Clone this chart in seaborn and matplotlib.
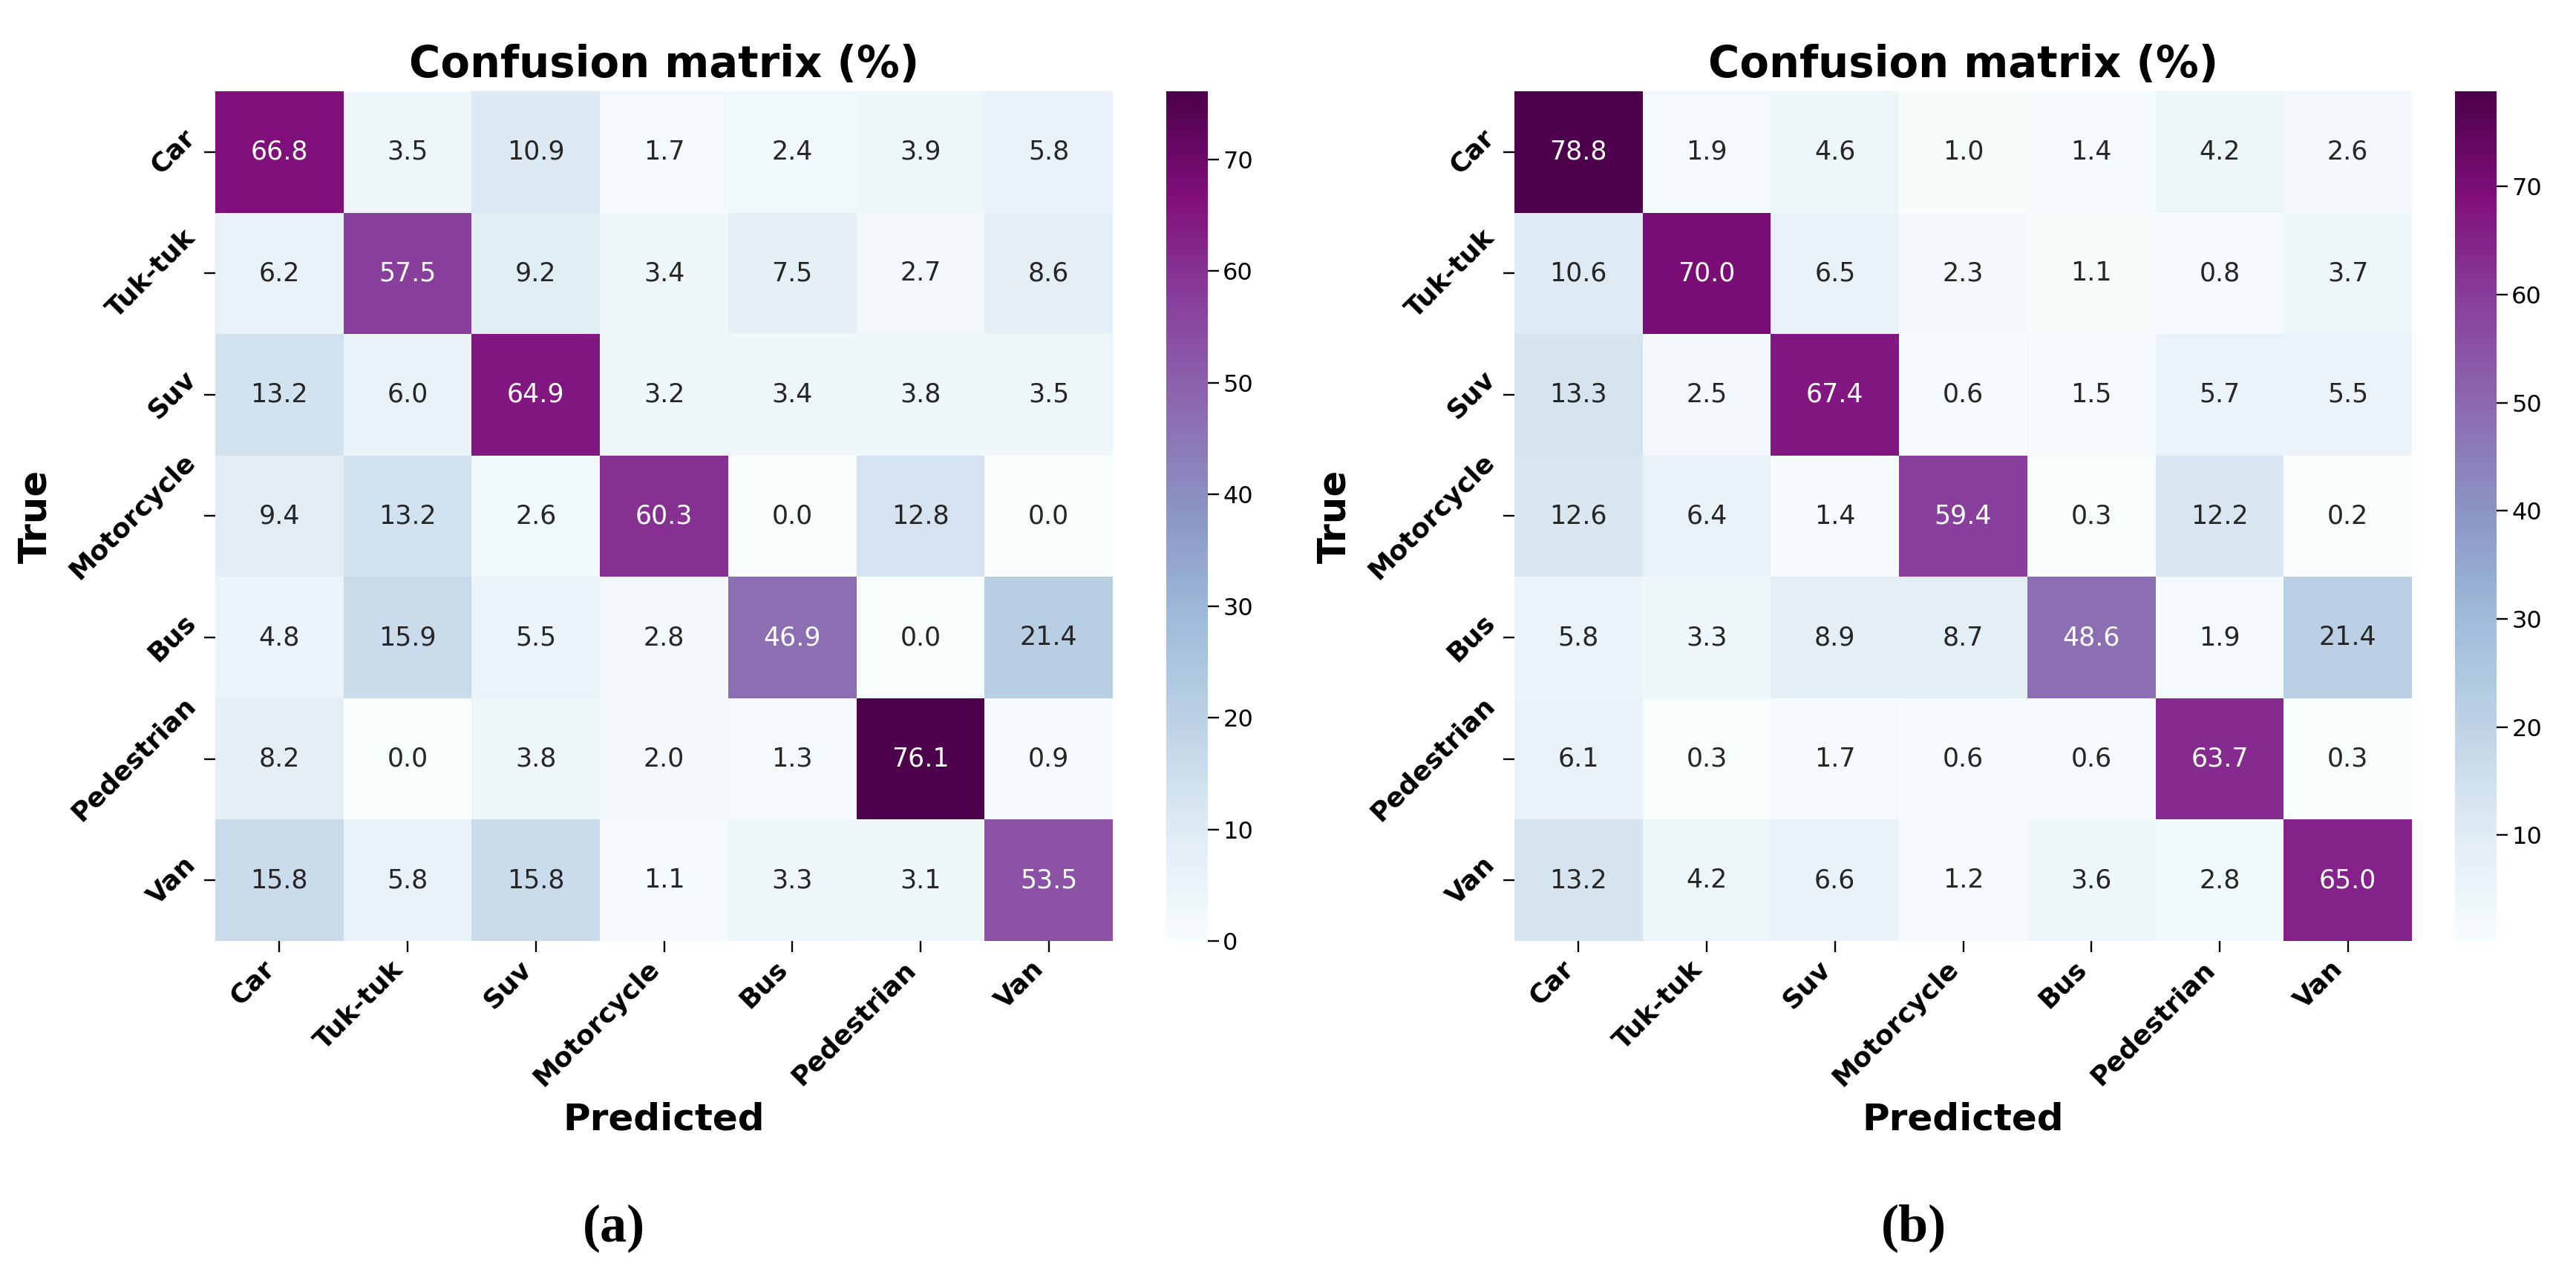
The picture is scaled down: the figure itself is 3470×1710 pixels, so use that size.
import numpy as np
import pandas as pd
import seaborn as sns
import matplotlib
matplotlib.use("Agg")
import matplotlib.pyplot as plt

classes = ["Car", "Tuk-tuk", "Suv", "Motorcycle", "Bus", "Pedestrian", "Van"]

cm_a = [
    [66.8, 3.5, 10.9, 1.7, 2.4, 3.9, 5.8],
    [6.2, 57.5, 9.2, 3.4, 7.5, 2.7, 8.6],
    [13.2, 6.0, 64.9, 3.2, 3.4, 3.8, 3.5],
    [9.4, 13.2, 2.6, 60.3, 0.0, 12.8, 0.0],
    [4.8, 15.9, 5.5, 2.8, 46.9, 0.0, 21.4],
    [8.2, 0.0, 3.8, 2.0, 1.3, 76.1, 0.9],
    [15.8, 5.8, 15.8, 1.1, 3.3, 3.1, 53.5],
]
cm_b = [
    [78.8, 1.9, 4.6, 1.0, 1.4, 4.2, 2.6],
    [10.6, 70.0, 6.5, 2.3, 1.1, 0.8, 3.7],
    [13.3, 2.5, 67.4, 0.6, 1.5, 5.7, 5.5],
    [12.6, 6.4, 1.4, 59.4, 0.3, 12.2, 0.2],
    [5.8, 3.3, 8.9, 8.7, 48.6, 1.9, 21.4],
    [6.1, 0.3, 1.7, 0.6, 0.6, 63.7, 0.3],
    [13.2, 4.2, 6.6, 1.2, 3.6, 2.8, 65.0],
]
panel_labels = ["(a)", "(b)"]
title = "Confusion matrix (%)"

sns.set_theme(style="white")
plt.rcParams["font.family"] = ["DejaVu Sans"]
for k in ["text.color", "axes.labelcolor", "xtick.color", "ytick.color"]:
    plt.rcParams[k] = "black"

W, H = 3470, 1710
fig = plt.figure(figsize=(W / 100, H / 100), dpi=100)

hm_bottom = (H - 1268) / H
hm_height = 1145 / H
panels = [
    (cm_a, 290, 1571, panel_labels[0], 827),
    (cm_b, 2040, 3307, panel_labels[1], 2578),
]

for data, left, cleft, plabel, px in panels:
    ax = fig.add_axes([left / W, hm_bottom, 1209 / W, hm_height])
    cax = fig.add_axes([cleft / W, hm_bottom, 56 / W, hm_height])
    df = pd.DataFrame(data, index=classes, columns=classes)
    sns.heatmap(df, annot=True, fmt=".1f", cmap="BuPu", ax=ax, cbar_ax=cax,
                annot_kws={"size": 25})
    ax.set_title(title, fontsize=41.5, fontweight="bold", pad=14, color="black")
    ax.set_xlabel("Predicted", fontsize=36, fontweight="bold", labelpad=10)
    ax.set_ylabel("True", fontsize=37, fontweight="bold", labelpad=10)
    ax.set_xticklabels(classes, rotation=45, ha="right", fontsize=26, fontweight="bold")
    ax.set_yticklabels(classes, rotation=45, ha="right", va="center", fontsize=26, fontweight="bold")
    ax.tick_params(axis="both", which="major", length=11, width=1.7, bottom=True, left=True, color="black")
    cax.tick_params(length=11, width=1.7, labelsize=23, right=True, color="black")
    fig.text(px / W, 1 - 1655 / H, plabel, ha="center", va="center",
             fontsize=52, family=["Liberation Serif", "DejaVu Serif"], fontweight="bold")

fig.savefig("out.png", dpi=100, facecolor="white")
